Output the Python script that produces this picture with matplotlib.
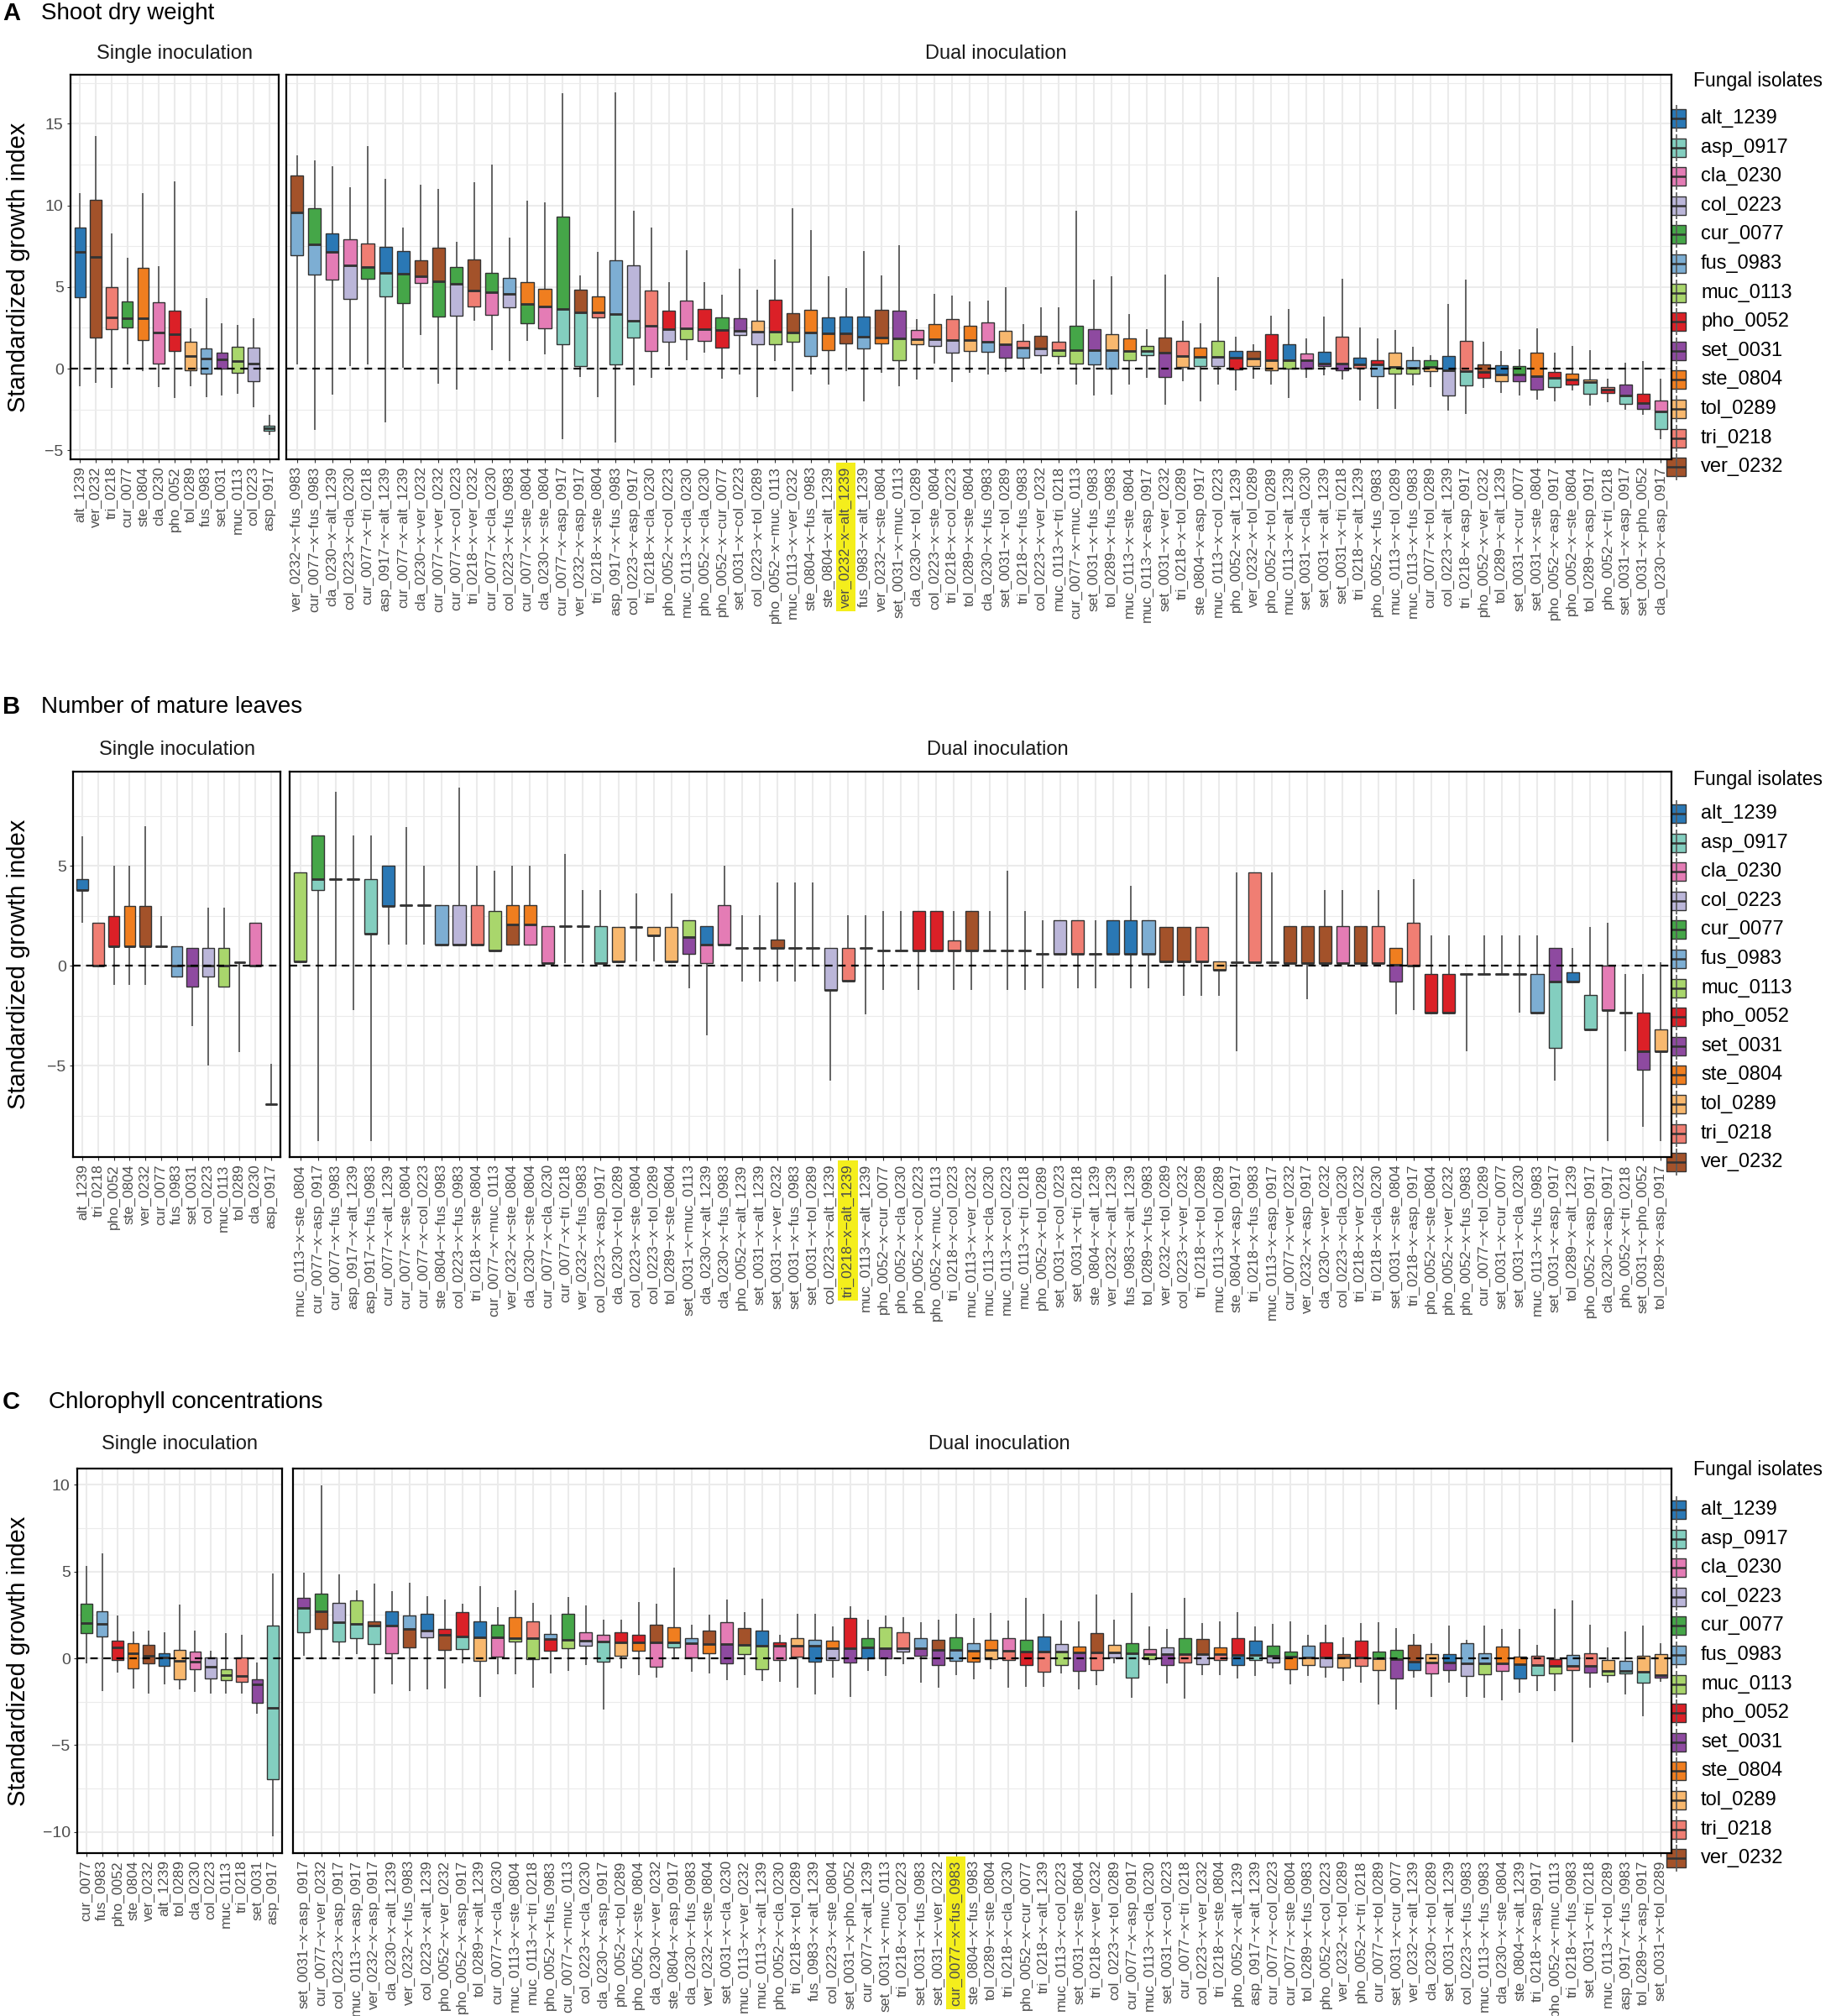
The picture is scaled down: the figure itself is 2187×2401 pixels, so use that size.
"""Standardized growth index boxplots for single and dual fungal inoculations."""

import matplotlib
matplotlib.use('Agg')
import matplotlib.pyplot as plt
from matplotlib.patches import Rectangle

plt.rcParams['font.family'] = ['Liberation Sans', 'DejaVu Sans']

W, H = 2187, 2401

isolates = ['alt_1239', 'asp_0917', 'cla_0230', 'col_0223', 'cur_0077', 'fus_0983', 'muc_0113',
            'pho_0052', 'set_0031', 'ste_0804', 'tol_0289', 'tri_0218', 'ver_0232']
iso_colors = ['#2A78B5', '#83CEBF', '#E47CB5', '#BBB6D9', '#45A648', '#7DAED3', '#A9D66C',
              '#DB2027', '#8E4AA0', '#F07E1F', '#F8B86E', '#F07E73', '#A3522A']

# ---------------- A: shoot dry weight ----------------
a_single = ['alt_1239', 'ver_0232', 'tri_0218', 'cur_0077', 'ste_0804', 'cla_0230', 'pho_0052',
            'tol_0289', 'fus_0983', 'set_0031', 'muc_0113', 'col_0223', 'asp_0917']
a_s_lo = [-1.1, -0.85, -1.2, 0.25, -0.15, -1.15, -1.8, -1.1, -1.75, -1.65, -1.55, -2.35, -4.05]
a_s_q1 = [4.35, 1.9, 2.4, 2.5, 1.75, 0.3, 1.1, -0.1, -0.3, 0.0, -0.25, -0.75, -3.8]
a_s_med = [7.15, 6.85, 3.15, 3.1, 3.1, 2.2, 2.1, 0.75, 0.6, 0.55, 0.45, 0.3, -3.65]
a_s_q3 = [8.65, 10.35, 5.0, 4.1, 6.15, 4.05, 3.55, 1.65, 1.25, 1.0, 1.35, 1.3, -3.5]
a_s_hi = [10.75, 14.25, 8.3, 6.8, 10.75, 6.3, 11.45, 2.45, 4.3, 2.8, 2.7, 3.1, -2.8]

a_pairs = [
    'ver_0232-x-fus_0983', 'cur_0077-x-fus_0983', 'cla_0230-x-alt_1239', 'col_0223-x-cla_0230', 'cur_0077-x-tri_0218',
    'asp_0917-x-alt_1239', 'cur_0077-x-alt_1239', 'cla_0230-x-ver_0232', 'cur_0077-x-ver_0232', 'cur_0077-x-col_0223',
    'tri_0218-x-ver_0232', 'cur_0077-x-cla_0230', 'col_0223-x-fus_0983',
    'cur_0077-x-ste_0804', 'cla_0230-x-ste_0804', 'cur_0077-x-asp_0917', 'ver_0232-x-asp_0917', 'tri_0218-x-ste_0804',
    'asp_0917-x-fus_0983', 'col_0223-x-asp_0917', 'tri_0218-x-cla_0230', 'pho_0052-x-col_0223', 'muc_0113-x-cla_0230',
    'pho_0052-x-cla_0230', 'pho_0052-x-cur_0077', 'set_0031-x-col_0223',
    'col_0223-x-tol_0289', 'pho_0052-x-muc_0113', 'muc_0113-x-ver_0232', 'ste_0804-x-fus_0983', 'ste_0804-x-alt_1239',
    'ver_0232-x-alt_1239', 'fus_0983-x-alt_1239', 'ver_0232-x-ste_0804', 'set_0031-x-muc_0113', 'cla_0230-x-tol_0289',
    'col_0223-x-ste_0804', 'tri_0218-x-col_0223', 'tol_0289-x-ste_0804',
    'cla_0230-x-fus_0983', 'set_0031-x-tol_0289', 'tri_0218-x-fus_0983', 'col_0223-x-ver_0232', 'muc_0113-x-tri_0218',
    'cur_0077-x-muc_0113', 'set_0031-x-fus_0983', 'tol_0289-x-fus_0983', 'muc_0113-x-ste_0804', 'muc_0113-x-asp_0917',
    'set_0031-x-ver_0232', 'tri_0218-x-tol_0289', 'ste_0804-x-asp_0917',
    'muc_0113-x-col_0223', 'pho_0052-x-alt_1239', 'ver_0232-x-tol_0289', 'pho_0052-x-tol_0289', 'muc_0113-x-alt_1239',
    'set_0031-x-cla_0230', 'set_0031-x-alt_1239', 'set_0031-x-tri_0218', 'tri_0218-x-alt_1239', 'pho_0052-x-fus_0983',
    'muc_0113-x-tol_0289', 'muc_0113-x-fus_0983', 'cur_0077-x-tol_0289',
    'col_0223-x-alt_1239', 'tri_0218-x-asp_0917', 'pho_0052-x-ver_0232', 'tol_0289-x-alt_1239', 'set_0031-x-cur_0077',
    'set_0031-x-ste_0804', 'pho_0052-x-asp_0917', 'pho_0052-x-ste_0804', 'tol_0289-x-asp_0917', 'pho_0052-x-tri_0218',
    'set_0031-x-asp_0917', 'set_0031-x-pho_0052', 'cla_0230-x-asp_0917']
a_lo = [0.28, -3.77, -1.57, 0.17, 0.28, -3.28, 0.06, 2.05, -0.91, -1.29, 2.95, 1.14, 0.45,
        1.68, 0.88, -4.31, -0.52, -1.72, -4.53, -1.03, -0.54, 0.17, 0.50, 0.97, -0.63, -0.37,
        -1.72, 0.45, -1.38, -0.37, -0.97, -0.15, -1.98, -0.26, -1.08, -0.65, 0.32, -0.84, -0.26,
        -0.37, -0.22, 0.0, -0.32, 0.24, -0.95, -1.62, -1.57, -0.95, -0.58, -2.20, -0.75, -1.98,
        -0.97, -1.34, -0.63, -0.95, -1.81, -0.54, -0.43, -0.67, -1.94, -2.48, -2.48, -1.01, -1.12,
        -2.59, -2.76, -1.16, -1.47, -1.66, -1.88, -1.98, -1.34, -2.26, -2.03, -2.52, -2.80, -4.31]
a_q1 = [6.96, 5.75, 5.45, 4.27, 5.52, 4.44, 3.99, 5.26, 3.17, 3.25, 3.81, 3.28, 3.77,
        2.78, 2.48, 1.47, 0.17, 3.13, 0.28, 1.90, 1.08, 1.66, 1.79, 1.72, 1.29, 2.05,
        1.47, 1.49, 1.64, 0.75, 1.12, 1.53, 1.25, 1.57, 0.52, 1.49, 1.40, 0.97, 1.06,
        1.01, 0.67, 0.69, 0.84, 0.75, 0.32, 0.28, 0.0, 0.54, 0.82, -0.52, 0.11, 0.17,
        0.15, -0.06, 0.17, -0.11, 0.0, 0.0, 0.15, -0.11, 0.04, -0.47, -0.32, -0.32, -0.13,
        -1.66, -1.01, -0.58, -0.78, -0.75, -1.27, -1.12, -0.97, -1.55, -1.47, -2.16, -2.48, -3.69]
a_med = [9.55, 7.61, 7.13, 6.31, 6.21, 5.84, 5.80, 5.67, 5.34, 5.19, 4.81, 4.68, 4.57,
         3.97, 3.79, 3.66, 3.47, 3.45, 3.36, 2.93, 2.65, 2.44, 2.48, 2.44, 2.39, 2.33,
         2.28, 2.26, 2.24, 2.20, 2.16, 2.16, 1.96, 1.90, 1.83, 1.79, 1.79, 1.75, 1.75,
         1.64, 1.47, 1.29, 1.23, 1.16, 1.14, 1.14, 1.14, 1.10, 1.08, 0.97, 0.78, 0.71,
         0.71, 0.65, 0.60, 0.52, 0.52, 0.54, 0.32, 0.32, 0.28, 0.28, 0.11, 0.04, 0.09,
         -0.09, -0.13, -0.19, -0.37, -0.37, -0.45, -0.58, -0.65, -0.84, -1.27, -1.66, -2.09, -2.63]
a_q3 = [11.81, 9.83, 8.28, 7.91, 7.65, 7.48, 7.22, 6.64, 7.39, 6.21, 6.68, 5.84, 5.56,
        5.30, 4.87, 9.29, 4.85, 4.40, 6.64, 6.34, 4.76, 3.53, 4.18, 3.64, 3.13, 3.10,
        2.95, 4.20, 3.41, 3.58, 3.13, 3.21, 3.21, 3.60, 3.53, 2.39, 2.74, 3.04, 2.63,
        2.84, 2.33, 1.70, 2.00, 1.64, 2.65, 2.44, 2.11, 1.83, 1.38, 1.92, 1.68, 1.27,
        1.68, 1.10, 1.06, 2.11, 1.49, 0.91, 1.01, 1.98, 0.69, 0.54, 0.97, 0.52, 0.52,
        0.75, 1.68, 0.28, 0.19, 0.15, 0.97, -0.19, -0.30, -0.67, -1.12, -0.97, -1.55, -1.94]
a_hi = [13.06, 12.74, 12.41, 11.12, 13.64, 11.62, 8.66, 11.25, 11.01, 7.76, 11.44, 12.48, 8.02,
        10.28, 10.19, 16.88, 5.71, 7.13, 16.92, 9.68, 8.66, 5.32, 7.26, 5.32, 4.55, 6.12,
        4.85, 6.68, 9.81, 8.47, 5.67, 4.96, 7.22, 5.71, 7.56, 3.04, 4.57, 4.46, 4.12,
        4.18, 5.00, 2.72, 3.77, 3.77, 9.66, 5.47, 5.67, 3.36, 2.44, 5.78, 2.93, 2.78,
        5.60, 1.96, 1.51, 3.25, 3.64, 1.85, 3.21, 5.50, 2.52, 1.88, 2.37, 1.36, 0.82,
        3.94, 5.43, 1.64, 1.08, 1.21, 2.46, 0.99, 1.38, 1.14, -0.63, 0.37, 0.45, -0.63]
# isolate whose colour fills the upper half (median to Q3)
a_upper = ['ver', 'cur', 'alt', 'cla', 'tri', 'alt', 'alt', 'ver', 'ver', 'cur', 'ver', 'cur', 'fus',
           'ste', 'ste', 'cur', 'ver', 'ste', 'fus', 'col', 'tri', 'pho', 'cla', 'pho', 'cur', 'set',
           'tol', 'pho', 'ver', 'ste', 'alt', 'alt', 'alt', 'ver', 'set', 'cla', 'ste', 'tri', 'ste',
           'cla', 'tol', 'tri', 'ver', 'tri', 'cur', 'set', 'tol', 'ste', 'muc', 'ver', 'tri', 'ste',
           'muc', 'alt', 'ver', 'pho', 'alt', 'cla', 'alt', 'tri', 'alt', 'pho', 'tol', 'fus', 'cur',
           'alt', 'tri', 'ver', 'alt', 'cur', 'ste', 'pho', 'ste', 'tol', 'tri', 'set', 'pho', 'cla']

# ---------------- B: number of mature leaves ----------------
b_single = ['alt_1239', 'tri_0218', 'pho_0052', 'ste_0804', 'ver_0232', 'cur_0077', 'fus_0983',
            'set_0031', 'col_0223', 'muc_0113', 'tol_0289', 'cla_0230', 'asp_0917']
b_s_lo = [2.15, 0.0, -0.95, -0.95, -0.95, 1.0, -0.55, -3.0, -5.0, -1.05, -4.3, 0.0, -6.9]
b_s_q1 = [3.8, 0.0, 1.0, 1.0, 1.0, 1.0, -0.55, -1.05, -0.55, -1.05, 0.2, 0.0, -6.9]
b_s_med = [3.8, 0.0, 1.0, 1.0, 1.0, 1.0, 0.0, 0.0, 0.0, 0.0, 0.2, 0.0, -6.9]
b_s_q3 = [4.35, 2.15, 2.5, 3.0, 3.0, 1.0, 1.0, 0.9, 0.9, 0.9, 0.2, 2.15, -6.9]
b_s_hi = [6.5, 2.15, 5.0, 5.0, 7.0, 2.5, 1.0, 0.9, 2.9, 2.9, 0.2, 2.15, -4.9]

b_pairs = [
    'muc_0113-x-ste_0804', 'cur_0077-x-asp_0917', 'cur_0077-x-fus_0983', 'asp_0917-x-alt_1239', 'asp_0917-x-fus_0983',
    'cur_0077-x-alt_1239', 'cur_0077-x-ste_0804', 'cur_0077-x-col_0223', 'ste_0804-x-fus_0983', 'col_0223-x-fus_0983',
    'tri_0218-x-ste_0804', 'cur_0077-x-muc_0113', 'ver_0232-x-ste_0804',
    'cla_0230-x-ste_0804', 'cur_0077-x-cla_0230', 'cur_0077-x-tri_0218', 'ver_0232-x-fus_0983', 'col_0223-x-asp_0917',
    'cla_0230-x-tol_0289', 'col_0223-x-ste_0804', 'col_0223-x-tol_0289', 'tol_0289-x-ste_0804', 'set_0031-x-muc_0113',
    'cla_0230-x-alt_1239', 'cla_0230-x-fus_0983', 'pho_0052-x-alt_1239',
    'set_0031-x-alt_1239', 'set_0031-x-ver_0232', 'set_0031-x-fus_0983', 'set_0031-x-tol_0289', 'col_0223-x-alt_1239',
    'tri_0218-x-alt_1239', 'muc_0113-x-alt_1239', 'pho_0052-x-cur_0077', 'pho_0052-x-cla_0230', 'pho_0052-x-col_0223',
    'pho_0052-x-muc_0113', 'tri_0218-x-col_0223', 'muc_0113-x-ver_0232',
    'muc_0113-x-cla_0230', 'muc_0113-x-col_0223', 'muc_0113-x-tri_0218', 'pho_0052-x-tol_0289', 'set_0031-x-col_0223',
    'set_0031-x-tri_0218', 'ste_0804-x-alt_1239', 'ver_0232-x-alt_1239', 'fus_0983-x-alt_1239', 'tol_0289-x-fus_0983',
    'ver_0232-x-tol_0289', 'col_0223-x-ver_0232', 'tri_0218-x-tol_0289',
    'muc_0113-x-tol_0289', 'ste_0804-x-asp_0917', 'tri_0218-x-fus_0983', 'muc_0113-x-asp_0917', 'cur_0077-x-ver_0232',
    'ver_0232-x-asp_0917', 'cla_0230-x-ver_0232', 'col_0223-x-cla_0230', 'tri_0218-x-ver_0232', 'tri_0218-x-cla_0230',
    'set_0031-x-ste_0804', 'tri_0218-x-asp_0917', 'pho_0052-x-ste_0804',
    'pho_0052-x-ver_0232', 'pho_0052-x-fus_0983', 'cur_0077-x-tol_0289', 'set_0031-x-cur_0077', 'set_0031-x-cla_0230',
    'muc_0113-x-fus_0983', 'set_0031-x-asp_0917', 'tol_0289-x-alt_1239', 'pho_0052-x-asp_0917', 'cla_0230-x-asp_0917',
    'pho_0052-x-tri_0218', 'set_0031-x-pho_0052', 'tol_0289-x-asp_0917']
b_lo = [0.23, -8.76, 0.0, -2.22, -8.76, 1.08, 1.08, 1.08, 1.06, 1.06, 1.06, 0.78, 1.06,
        1.06, 0.16, 0.16, 0.16, 0.16, 0.23, 0.23, 0.23, 0.23, -1.13, -3.46, 1.06, -0.78,
        -0.78, -0.78, -0.78, 0.0, -5.74, -0.76, -2.43, -1.22, 0.78, -1.22, 0.78, -1.22, -1.22,
        0.78, -1.22, -1.22, -1.13, 0.59, -1.13, -1.13, 0.59, -1.13, -1.13, 0.23, -1.49, -1.49,
        -1.49, -4.27, 0.20, 0.20, 0.14, -1.67, 0.14, 0.14, 0.14, 0.14, -2.43, -2.22, -2.32,
        -2.32, -4.27, -0.39, -0.39, -2.32, -2.32, -5.74, -0.78, -3.17, -8.76, -4.27, -8.07, -8.76]
b_q1 = [0.23, 3.79, 4.36, 4.36, 1.61, 3.01, 3.03, 3.03, 1.06, 1.06, 1.06, 0.78, 1.06,
        1.06, 0.16, 1.99, 1.99, 0.16, 0.23, 1.95, 1.52, 0.23, 0.59, 0.16, 1.06, 0.90,
        0.90, 0.90, 0.90, 0.90, -1.19, -0.76, 0.90, 0.78, 0.78, 0.78, 0.78, 0.78, 0.78,
        0.78, 0.78, 0.78, 0.59, 0.59, 0.59, 0.59, 0.59, 0.59, 0.59, 0.23, 0.23, 0.23,
        -0.18, 0.20, 0.20, 0.20, 0.14, 0.14, 0.14, 0.14, 0.14, 0.14, -0.78, 0.0, -2.32,
        -2.32, -0.39, -0.39, -0.39, -0.39, -2.32, -4.10, -0.78, -3.17, -2.22, -2.32, -5.21, -4.27]
b_med = [0.23, 4.36, 4.36, 4.36, 1.61, 3.01, 3.03, 3.03, 1.06, 1.06, 1.06, 0.78, 2.09,
         2.06, 0.16, 1.99, 1.99, 0.16, 0.23, 1.95, 1.52, 0.23, 1.44, 1.06, 1.06, 0.90,
         0.90, 0.90, 0.90, 0.90, -1.19, -0.76, 0.90, 0.78, 0.78, 0.78, 0.78, 0.78, 0.78,
         0.78, 0.78, 0.78, 0.59, 0.59, 0.59, 0.59, 0.59, 0.59, 0.59, 0.23, 0.23, 0.23,
         -0.18, 0.20, 0.20, 0.20, 0.14, 0.14, 0.14, 0.14, 0.14, 0.14, 0.05, 0.0, -2.32,
         -2.32, -0.39, -0.39, -0.39, -0.39, -2.32, -0.78, -0.78, -3.17, -2.22, -2.32, -4.27, -4.27]
b_q3 = [4.68, 6.54, 4.36, 4.36, 4.36, 5.0, 3.03, 3.03, 3.03, 3.03, 3.03, 2.77, 3.03,
        3.03, 1.99, 1.99, 1.99, 1.99, 1.95, 1.95, 1.95, 1.95, 2.29, 1.99, 3.03, 0.90,
        0.90, 1.31, 0.90, 0.90, 0.90, 0.90, 0.90, 0.78, 0.78, 2.77, 2.77, 1.28, 2.77,
        0.78, 0.78, 0.78, 0.59, 2.29, 2.29, 0.59, 2.29, 2.29, 2.29, 1.95, 1.95, 1.95,
        0.23, 0.20, 4.68, 0.20, 1.99, 1.99, 1.99, 1.99, 1.99, 1.99, 0.90, 2.16, -0.39,
        -0.39, -0.39, -0.39, -0.39, -0.39, -0.39, 0.90, -0.34, -1.45, 0.0, -2.32, -2.32, -3.17]
b_hi = [4.68, 6.54, 8.71, 6.54, 6.54, 5.0, 6.97, 5.0, 3.03, 8.92, 5.0, 4.75, 5.0,
        5.0, 1.99, 5.60, 3.79, 3.79, 1.95, 3.65, 1.95, 3.65, 2.29, 1.99, 5.0, 2.54,
        2.55, 4.18, 4.18, 4.18, 0.90, 2.55, 2.55, 2.77, 2.77, 2.77, 2.77, 2.77, 2.77,
        2.77, 4.75, 2.77, 2.29, 2.29, 2.29, 2.29, 2.29, 4.01, 2.29, 1.95, 1.95, 1.95,
        0.23, 4.68, 4.68, 4.68, 1.99, 1.99, 3.79, 3.79, 1.99, 3.79, 0.90, 4.36, 1.54,
        1.54, -0.39, 1.54, 1.54, 1.54, 1.54, 0.90, 0.90, 1.97, 2.16, -0.39, -0.39, 0.20]
b_upper = ['muc', 'cur', 'cur', 'alt', 'asp', 'alt', 'ste', 'cur', 'fus', 'col', 'tri', 'muc', 'ste',
           'ste', 'cla', 'tri', 'ver', 'asp', 'tol', 'ste', 'tol', 'tol', 'muc', 'alt', 'cla', 'pho',
           'alt', 'ver', 'fus', 'tol', 'col', 'tri', 'alt', 'pho', 'pho', 'pho', 'pho', 'tri', 'ver',
           'cla', 'col', 'tri', 'pho', 'col', 'tri', 'alt', 'alt', 'alt', 'fus', 'ver', 'ver', 'tri',
           'tol', 'ste', 'tri', 'muc', 'ver', 'ver', 'ver', 'cla', 'ver', 'tri', 'ste', 'tri', 'pho',
           'pho', 'pho', 'cur', 'cur', 'cla', 'fus', 'set', 'alt', 'asp', 'cla', 'pho', 'pho', 'tol']

# ---------------- C: chlorophyll concentrations ----------------
c_single = ['cur_0077', 'fus_0983', 'pho_0052', 'ste_0804', 'ver_0232', 'alt_1239', 'tol_0289',
            'cla_0230', 'col_0223', 'muc_0113', 'tri_0218', 'set_0031', 'asp_0917']
c_s_lo = [-0.3, -1.9, -0.8, -1.75, -2.05, -1.5, -1.8, -1.95, -2.05, -2.05, -2.05, -3.2, -10.25]
c_s_q1 = [1.45, 1.25, -0.1, -0.6, -0.3, -0.45, -1.2, -0.65, -1.15, -1.25, -1.35, -2.55, -6.95]
c_s_med = [2.05, 2.0, 0.65, 0.3, 0.15, 0.05, -0.15, -0.2, -0.5, -0.95, -1.0, -1.5, -2.85]
c_s_q3 = [3.15, 2.7, 1.0, 0.85, 0.75, 0.3, 0.5, 0.4, 0.05, -0.65, 0.05, -1.2, 1.9]
c_s_hi = [5.3, 6.05, 2.45, 1.55, 1.6, 1.5, 3.1, 1.6, 0.45, 1.45, 1.35, -0.25, 4.9]

c_pairs = [
    'set_0031-x-asp_0917', 'cur_0077-x-ver_0232', 'col_0223-x-asp_0917', 'muc_0113-x-asp_0917', 'ver_0232-x-asp_0917',
    'cla_0230-x-alt_1239', 'ver_0232-x-fus_0983', 'col_0223-x-alt_1239', 'pho_0052-x-ver_0232', 'pho_0052-x-asp_0917',
    'tol_0289-x-alt_1239', 'cur_0077-x-cla_0230', 'muc_0113-x-ste_0804',
    'muc_0113-x-tri_0218', 'pho_0052-x-fus_0983', 'cur_0077-x-muc_0113', 'col_0223-x-cla_0230', 'cla_0230-x-asp_0917',
    'pho_0052-x-tol_0289', 'pho_0052-x-ste_0804', 'cla_0230-x-ver_0232', 'ste_0804-x-asp_0917', 'cla_0230-x-fus_0983',
    'ver_0232-x-ste_0804', 'set_0031-x-cla_0230', 'muc_0113-x-ver_0232',
    'muc_0113-x-alt_1239', 'pho_0052-x-cla_0230', 'tri_0218-x-tol_0289', 'fus_0983-x-alt_1239', 'col_0223-x-ste_0804',
    'set_0031-x-pho_0052', 'cur_0077-x-alt_1239', 'set_0031-x-muc_0113', 'tri_0218-x-col_0223', 'set_0031-x-fus_0983',
    'set_0031-x-ver_0232', 'cur_0077-x-fus_0983', 'ste_0804-x-fus_0983',
    'tol_0289-x-ste_0804', 'tri_0218-x-cla_0230', 'pho_0052-x-cur_0077', 'tri_0218-x-alt_1239', 'muc_0113-x-col_0223',
    'set_0031-x-ste_0804', 'tri_0218-x-ver_0232', 'col_0223-x-tol_0289', 'cur_0077-x-asp_0917', 'muc_0113-x-cla_0230',
    'set_0031-x-col_0223', 'cur_0077-x-tri_0218', 'col_0223-x-ver_0232',
    'tri_0218-x-ste_0804', 'pho_0052-x-alt_1239', 'asp_0917-x-alt_1239', 'cur_0077-x-col_0223', 'cur_0077-x-ste_0804',
    'tol_0289-x-fus_0983', 'pho_0052-x-col_0223', 'ver_0232-x-tol_0289', 'pho_0052-x-tri_0218', 'cur_0077-x-tol_0289',
    'set_0031-x-cur_0077', 'ver_0232-x-alt_1239', 'cla_0230-x-tol_0289',
    'set_0031-x-alt_1239', 'col_0223-x-fus_0983', 'muc_0113-x-fus_0983', 'cla_0230-x-ste_0804', 'ste_0804-x-alt_1239',
    'tri_0218-x-asp_0917', 'pho_0052-x-muc_0113', 'tri_0218-x-fus_0983', 'set_0031-x-tri_0218', 'muc_0113-x-tol_0289',
    'asp_0917-x-fus_0983', 'tol_0289-x-asp_0917', 'set_0031-x-tol_0289']
c_lo = [0.16, 0.0, 0.16, 0.26, -2.03, -1.50, -1.87, -1.77, -1.73, -0.28, -2.24, -0.91, -0.91,
        -1.67, -0.89, -0.73, -0.41, -2.93, -0.59, -0.96, -1.10, 0.0, -0.79, -0.85, -1.26, -0.96,
        -1.30, -1.36, -1.67, -2.07, -1.12, -2.24, -0.71, -1.00, -0.33, -1.42, -1.67, -0.96, -1.20,
        -0.61, -1.67, -1.63, -1.63, -0.85, -1.81, -1.57, -0.28, -2.28, -0.41, -1.46, -2.34, -0.96,
        -0.96, -1.16, -1.00, -0.59, -1.50, -1.00, -1.12, -1.30, -1.38, -2.68, -2.93, -1.10, -2.22,
        -1.38, -2.22, -2.28, -2.42, -1.97, -1.87, -1.87, -4.82, -1.67, -1.40, -2.07, -3.33, -1.36]
c_q1 = [1.52, 1.71, 0.98, 1.14, 0.81, 0.28, 0.61, 1.22, 0.47, 0.53, -0.16, 0.08, 0.98,
        -0.06, 0.43, 0.57, 0.73, -0.18, 0.14, 0.43, -0.49, 0.61, 0.06, 0.30, -0.30, 0.26,
        -0.61, -0.12, 0.12, -0.18, -0.10, -0.22, 0.0, 0.0, 0.41, 0.16, -0.41, -0.14, -0.18,
        -0.04, -0.08, -0.39, -0.79, -0.39, -0.73, -0.69, 0.04, -1.10, -0.06, -0.39, -0.24, -0.33,
        -0.10, -0.39, -0.10, -0.24, -0.61, -0.39, -0.49, -0.55, -0.45, -0.69, -1.16, -0.69, -0.85,
        -0.67, -1.02, -0.91, -0.73, -1.16, -0.98, -0.85, -0.69, -0.81, -0.96, -0.87, -1.38, -1.10]
c_med = [2.91, 2.70, 2.09, 1.99, 1.89, 1.87, 1.69, 1.59, 1.36, 1.24, 1.22, 1.20, 1.16,
         1.16, 1.10, 1.06, 1.02, 0.98, 0.93, 0.93, 0.93, 0.91, 0.89, 0.83, 0.81, 0.77,
         0.73, 0.71, 0.71, 0.71, 0.57, 0.57, 0.61, 0.57, 0.57, 0.57, 0.49, 0.47, 0.43,
         0.47, 0.45, 0.41, 0.37, 0.37, 0.35, 0.33, 0.35, 0.30, 0.26, 0.26, 0.24, 0.22,
         0.26, 0.20, 0.20, 0.14, 0.10, 0.06, 0.04, 0.04, 0.04, 0.02, -0.04, -0.20, -0.24,
         -0.24, -0.28, -0.30, -0.30, -0.35, -0.41, -0.45, -0.45, -0.45, -0.73, -0.71, -0.77, -0.98]
c_q3 = [3.48, 3.72, 3.17, 3.33, 2.11, 2.72, 2.46, 2.56, 1.71, 2.68, 2.13, 1.95, 2.36,
        2.15, 1.38, 2.56, 1.52, 1.36, 1.50, 1.36, 1.95, 1.79, 1.18, 1.61, 2.07, 1.75,
        1.59, 0.91, 1.18, 1.08, 1.00, 2.34, 1.18, 1.79, 1.50, 1.18, 1.04, 1.22, 0.87,
        1.08, 1.14, 1.08, 1.28, 0.83, 0.67, 1.46, 0.75, 0.89, 0.51, 0.61, 1.18, 1.10,
        0.63, 1.14, 1.00, 0.71, 0.41, 0.73, 0.91, 0.22, 1.00, 0.41, 0.47, 0.75, 0.26,
        0.26, 0.89, 0.30, 0.69, 0.10, 0.16, -0.06, 0.18, 0.30, -0.10, -0.16, 0.16, 0.26]
c_hi = [4.92, 9.96, 4.84, 3.94, 4.31, 3.88, 4.33, 3.60, 3.39, 3.15, 4.15, 2.97, 3.94,
        3.21, 2.50, 3.54, 3.07, 2.24, 2.24, 3.23, 3.13, 5.24, 1.93, 2.50, 3.37, 2.66,
        3.41, 1.34, 2.56, 2.56, 1.85, 3.01, 2.22, 2.46, 2.36, 2.09, 2.24, 2.56, 2.34,
        2.62, 2.20, 3.48, 2.54, 2.20, 2.13, 3.66, 2.24, 3.78, 1.83, 1.69, 3.46, 2.05,
        2.13, 2.64, 1.85, 1.99, 2.11, 1.36, 1.93, 1.22, 2.05, 2.09, 1.73, 1.42, 0.89,
        1.87, 1.08, 1.87, 1.71, 1.71, 0.79, 2.87, 3.33, 1.93, 0.61, 1.54, 1.87, 0.89]
c_upper = ['set', 'cur', 'col', 'muc', 'ver', 'alt', 'fus', 'alt', 'pho', 'pho', 'alt', 'cur', 'ste',
           'tri', 'fus', 'cur', 'cla', 'cla', 'pho', 'pho', 'ver', 'ste', 'fus', 'ver', 'cla', 'ver',
           'alt', 'pho', 'tol', 'fus', 'ste', 'pho', 'cur', 'muc', 'tri', 'fus', 'ver', 'cur', 'fus',
           'ste', 'cla', 'cur', 'alt', 'col', 'ste', 'ver', 'tol', 'cur', 'cla', 'col', 'cur', 'ver',
           'ste', 'pho', 'alt', 'cur', 'cur', 'fus', 'pho', 'ver', 'pho', 'cur', 'cur', 'ver', 'tol',
           'alt', 'fus', 'fus', 'ste', 'ste', 'tri', 'pho', 'fus', 'tri', 'tol', 'fus', 'tol', 'tol']

COLOR = dict(zip(isolates, iso_colors))
BY_PREFIX = {k.split('_')[0]: k for k in isolates}
GRID = '#EBEBEB'
EDGE = '#333333'
WHISK = '#595959'
TXT = '#4D4D4D'
BW = 0.72

fig = plt.figure(figsize=(W / 100, H / 100), dpi=100)


def add_ax(x0, y0, x1, y1):
    return fig.add_axes([x0 / W, 1 - y1 / H, (x1 - x0) / W, (y1 - y0) / H])


def style(ax, labels, ylim, major, minor, show_y, highlight=None):
    n = len(labels)
    ax.set_xlim(-0.6, n - 0.4)
    ax.set_ylim(*ylim)
    for y in minor:
        ax.axhline(y, color=GRID, lw=0.8, zorder=0)
    for y in major:
        ax.axhline(y, color=GRID, lw=1.5, zorder=0)
    for x in range(n):
        ax.axvline(x, color=GRID, lw=1.5, zorder=0)
    ax.axhline(0, color='black', lw=1.6, ls=(0, (4, 3)), zorder=6)
    ax.set_xticks(range(n))
    ax.set_xticklabels([l.replace('-', '\u2212') for l in labels], rotation=90,
                       fontsize=12.5, color=TXT, ha='center', va='top')
    ax.tick_params(axis='x', length=3, pad=3, color=EDGE)
    if show_y:
        ax.set_yticks(major)
        ax.set_yticklabels([f'{v:g}'.replace('-', '\u2212') for v in major], fontsize=14, color=TXT)
        ax.tick_params(axis='y', length=3, pad=3, color=EDGE)
    else:
        ax.set_yticks([])
    for s in ax.spines.values():
        s.set_linewidth(1.6)
        s.set_color('black')
    if highlight:
        for t in ax.get_xticklabels():
            if t.get_text() == highlight.replace('-', '\u2212'):
                t.set_bbox(dict(facecolor='#F4EE1C', edgecolor='none', pad=3))


def boxes(ax, lo, q1, med, q3, hi, low_cols, up_cols):
    xs = list(range(len(lo)))
    ax.vlines(xs, lo, hi, colors=WHISK, lw=1.3, zorder=2)
    ax.bar(xs, [m - a for m, a in zip(med, q1)], bottom=q1, width=BW, color=low_cols,
           edgecolor=EDGE, linewidth=1.0, zorder=3)
    ax.bar(xs, [b - m for b, m in zip(q3, med)], bottom=med, width=BW, color=up_cols,
           edgecolor=EDGE, linewidth=1.0, zorder=3)
    ax.hlines(med, [x - BW / 2 for x in xs], [x + BW / 2 for x in xs], colors=EDGE, lw=2.0, zorder=4)


def split_colors(pairs, upper):
    lows, ups = [], []
    for p, u in zip(pairs, upper):
        a, b = p.split('-x-')
        up = BY_PREFIX[u]
        low = b if up == a else a
        ups.append(COLOR[up])
        lows.append(COLOR[low])
    return lows, ups


panels = [
    dict(letter='A', title='Shoot dry weight', ty=16, tx=49,
         single=(84, 89, 332, 547), dual=(341, 89, 1991, 547), strip_y=64,
         ylim=(-5.55, 18.0), major=[-5, 0, 5, 10, 15], minor=[-2.5, 2.5, 7.5, 12.5, 17.5],
         s=(a_single, a_s_lo, a_s_q1, a_s_med, a_s_q3, a_s_hi),
         d=(a_pairs, a_lo, a_q1, a_med, a_q3, a_hi, a_upper), hl='ver_0232-x-alt_1239',
         leg_title=97, leg0=141),
    dict(letter='B', title='Number of mature leaves', ty=842, tx=49,
         single=(87, 919, 334, 1378), dual=(345, 919, 1991, 1378), strip_y=893,
         ylim=(-9.57, 9.73), major=[-5, 0, 5], minor=[-7.5, -2.5, 2.5, 7.5],
         s=(b_single, b_s_lo, b_s_q1, b_s_med, b_s_q3, b_s_hi),
         d=(b_pairs, b_lo, b_q1, b_med, b_q3, b_hi, b_upper), hl='tri_0218-x-alt_1239',
         leg_title=928, leg0=969),
    dict(letter='C', title='Chlorophyll concentrations', ty=1670, tx=58,
         single=(92, 1749, 336, 2207), dual=(349, 1749, 1991, 2207), strip_y=1720,
         ylim=(-11.22, 10.93), major=[-10, -5, 0, 5, 10], minor=[-7.5, -2.5, 2.5, 7.5],
         s=(c_single, c_s_lo, c_s_q1, c_s_med, c_s_q3, c_s_hi),
         d=(c_pairs, c_lo, c_q1, c_med, c_q3, c_hi, c_upper), hl='cur_0077-x-fus_0983',
         leg_title=1750, leg0=1798),
]

ov = fig.add_axes([0, 0, 1, 1])
ov.set_xlim(0, W)
ov.set_ylim(H, 0)
ov.axis('off')

for p in panels:
    ax_s = add_ax(*p['single'])
    ax_d = add_ax(*p['dual'])
    names, lo, q1, med, q3, hi = p['s']
    cols = [COLOR[n] for n in names]
    boxes(ax_s, lo, q1, med, q3, hi, cols, cols)
    style(ax_s, names, p['ylim'], p['major'], p['minor'], True)

    pairs, lo, q1, med, q3, hi, upper = p['d']
    lows, ups = split_colors(pairs, upper)
    boxes(ax_d, lo, q1, med, q3, hi, lows, ups)
    style(ax_d, pairs, p['ylim'], p['major'], p['minor'], False, p['hl'])

    # titles and facet strips
    ov.text(3, p['ty'], p['letter'], fontsize=21, fontweight='bold', ha='left', va='center')
    ov.text(p['tx'], p['ty'], p['title'], fontsize=20, ha='left', va='center')
    sx0, _, sx1, sy1 = p['single']
    dx0, dy0, dx1, dy1 = p['dual']
    ov.text((sx0 + sx1) / 2, p['strip_y'], 'Single inoculation', fontsize=17, ha='center', va='center', color='#1A1A1A')
    ov.text((dx0 + dx1) / 2 + 20, p['strip_y'], 'Dual inoculation', fontsize=17, ha='center', va='center', color='#1A1A1A')
    ov.text(22, (dy0 + dy1) / 2, 'Standardized growth index', fontsize=21, rotation=90, ha='center', va='center')

    # legend
    ov.text(2017, p['leg_title'], 'Fungal isolates', fontsize=16.5, ha='left', va='center')
    for i, iso in enumerate(isolates):
        cy = p['leg0'] + i * 34.6
        ov.vlines(1996.5, cy - 16, cy + 16, colors=WHISK, lw=1.2)
        ov.add_patch(Rectangle((1985, cy - 11), 23, 22, facecolor=COLOR[iso], edgecolor=EDGE, lw=1.0))
        ov.hlines(cy, 1985, 2008, colors=EDGE, lw=1.8)
        ov.text(2026, cy, iso, fontsize=17, ha='left', va='center')

fig.savefig('out.png', dpi=100)
